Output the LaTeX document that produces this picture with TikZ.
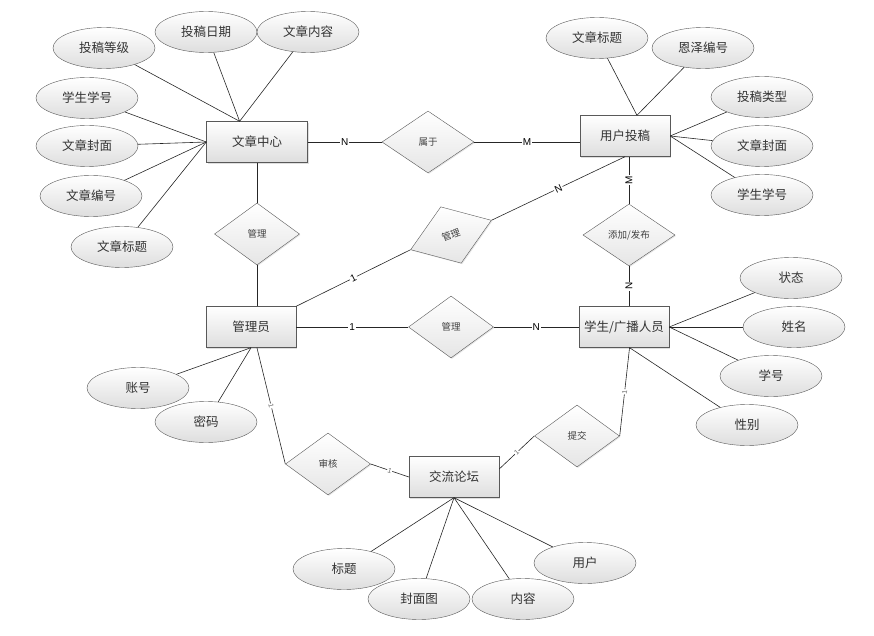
\documentclass[tikz,border=0pt]{standalone}
\usepackage{fontspec}
\setmainfont{Liberation Sans}
\newfontfamily\cjk{Noto Sans CJK SC}
\usetikzlibrary{shapes.geometric,shadows}
\tikzset{
  el/.style={ellipse, draw=black!65, top color=white, bottom color=black!13, minimum width=102pt, minimum height=41pt, inner sep=0pt, text=black!80, font=\cjk\fontsize{12.5}{14}\selectfont},
  en/.style={rectangle, draw=black!65, top color=white, bottom color=black!13, minimum width=90pt, minimum height=41pt, inner sep=0pt, text=black!80, font=\cjk\fontsize{12.5}{14}\selectfont, drop shadow={shadow xshift=1.2pt, shadow yshift=-1.2pt, opacity=.25}},
  re/.style={diamond, draw=black!65, top color=white, bottom color=black!10, minimum width=85pt, minimum height=62pt, inner sep=0pt, text=black!75, font=\cjk\fontsize{9.5}{11}\selectfont, drop shadow={shadow xshift=1pt, shadow yshift=-1pt, opacity=.2}},
  ln/.style={draw=black!85, line width=0.6pt},
  lb/.style={fill=white, inner sep=1pt, font=\fontsize{10}{12}\selectfont},
  sl/.style={sloped, fill=white, inner sep=0.6pt, text=black!60, font=\fontsize{7}{8}\selectfont}
}

\begin{document}
\begin{tikzpicture}[x=1pt, y=-1pt]
  \useasboundingbox (0,0) rectangle (874,636);

  % entities
  \node[en, minimum width=101pt] (wzzx) at (257,142) {文章中心};
  \node[en] (ytg)  at (625,136) {用户投稿};
  \node[en] (gly)  at (251,327) {管理员};
  \node[en] (xs)   at (624,327) {学生/广播人员};
  \node[en] (jllt) at (454,477) {交流论坛};

  % relations
  \node[re, minimum width=92pt] (sy) at (428,142) {属于};
  \node[re] (gl1) at (257,234) {管理};
  \node[re, minimum width=86pt, minimum height=60pt, rotate=20] (gl2) at (451,235) {管理};
  \node[re] (gl3) at (451,327) {管理};
  \node[re, minimum width=92pt] (tj) at (629,235) {添加/发布};
  \node[re] (sh)  at (328,464) {审核};
  \node[re] (tjx) at (577,436) {提交};

  % attributes of 文章中心
  \node[el] (wz1) at (104,48)  {投稿等级};
  \node[el] (wz2) at (206,32)  {投稿日期};
  \node[el] (wz3) at (308,32)  {文章内容};
  \node[el] (wz4) at (87,98)   {学生学号};
  \node[el] (wz5) at (87,146)  {文章封面};
  \node[el] (wz6) at (91,196)  {文章编号};
  \node[el] (wz7) at (122,247) {文章标题};

  % attributes of 用户投稿
  \node[el] (yt1) at (597,38)  {文章标题};
  \node[el] (yt2) at (703,48)  {恩泽编号};
  \node[el] (yt3) at (762,97)  {投稿类型};
  \node[el] (yt4) at (762,146) {文章封面};
  \node[el] (yt5) at (762,195) {学生学号};

  % attributes of 学生/广播人员
  \node[el] (xs1) at (791,278) {状态};
  \node[el] (xs2) at (794,327) {姓名};
  \node[el] (xs3) at (771,376) {学号};
  \node[el] (xs4) at (747,425) {性别};

  % attributes of 管理员
  \node[el] (gy1) at (138,388) {账号};
  \node[el] (gy2) at (206,422) {密码};

  % attributes of 交流论坛
  \node[el] (jl1) at (344,569) {标题};
  \node[el] (jl2) at (419,599) {封面图};
  \node[el] (jl3) at (523,599) {内容};
  \node[el] (jl4) at (585,563) {用户};

  % attribute links
  \draw[ln] (wz1) -- (wzzx.130);
  \draw[ln] (wz2) -- (wzzx.130);
  \draw[ln] (wz3) -- (wzzx.130);
  \draw[ln] (wz4) -- (wzzx.west);
  \draw[ln] (wz5) -- (wzzx.west);
  \draw[ln] (wz6) -- (wzzx.west);
  \draw[ln] (wz7) -- (wzzx.west);
  \draw[ln] (yt1) -- (ytg.60);
  \draw[ln] (yt2) -- (ytg.60);
  \draw[ln] (yt3) -- (ytg.east);
  \draw[ln] (yt4) -- (ytg.east);
  \draw[ln] (yt5) -- (ytg.east);
  \draw[ln] (xs1) -- (xs.east);
  \draw[ln] (xs2) -- (xs.east);
  \draw[ln] (xs3) -- (xs.east);
  \draw[ln] (xs4) -- (xs.-75);
  \draw[ln] (gy1) -- (gly.south);
  \draw[ln] (gy2) -- (gly.south);
  \draw[ln] (jl1) -- (jllt.south);
  \draw[ln] (jl2) -- (jllt.south);
  \draw[ln] (jl3) -- (jllt.south);
  \draw[ln] (jl4) -- (jllt.south);

  % relation links
  \draw[ln] (wzzx.east) -- node[lb] {N} (sy.west);
  \draw[ln] (sy.east) -- node[lb] {M} (sy.east -| ytg.west);
  \draw[ln] (wzzx.south) -- (gl1.north);
  \draw[ln] (gl1.south) -- (gl1.south |- gly.north);
  \draw[ln] (gly.north east) -- node[lb, sloped] {1} (gl2.west);
  \draw[ln] (gl2.east) -- node[lb, sloped] {N} (ytg.south);
  \draw[ln] (tj.north) -- node[lb, sloped] {M} (tj.north |- ytg.south);
  \draw[ln] (xs.north -| tj.south) -- node[lb, sloped] {N} (tj.south);
  \draw[ln] (gly.east) -- node[lb] {1} (gl3.west);
  \draw[ln] (gl3.east) -- node[lb] {N} (xs.west);
  \draw[ln] (gly.-74) -- node[sl] {1} (sh.west);
  \draw[ln] (sh.east) -- node[sl] {1} (jllt.west);
  \draw[ln] (jllt.10) -- node[sl] {1} (tjx.west);
  \draw[ln] (xs.-75) -- node[sl] {1} (tjx.east);
\end{tikzpicture}
\end{document}
